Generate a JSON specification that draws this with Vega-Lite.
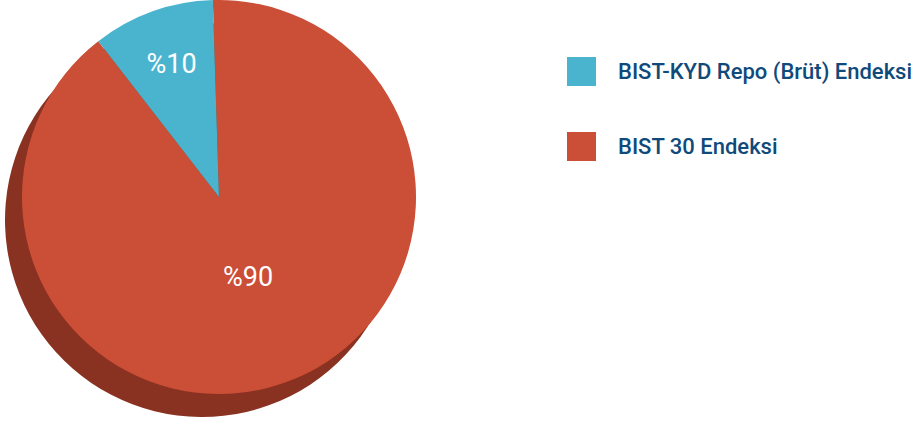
{
  "$schema": "https://vega.github.io/schema/vega-lite/v6.json",
  "width": 438,
  "height": 394,
  "padding": 0,
  "background": "white",
  "config": {"view": {"stroke": null}},
  "data": {
    "values": [
      {"endeks": "BIST 30 Endeksi", "pay": 90, "label": "%90"},
      {"endeks": "BIST-KYD Repo (Brüt) Endeksi", "pay": 10, "label": "%10"}
    ]
  },
  "encoding": {
    "theta": {"field": "pay", "type": "quantitative", "stack": true, "scale": {"range": [-0.0314, 6.2518]}},
    "order": {"field": "endeks"}
  },
  "layer": [
    {
      "mark": {"type": "arc", "radius": 197, "xOffset": -17, "yOffset": 23, "color": "#8a3221"}
    },
    {
      "mark": {"type": "arc", "radius": 197},
      "encoding": {
        "color": {
          "field": "endeks",
          "type": "nominal",
          "scale": {
            "domain": ["BIST-KYD Repo (Brüt) Endeksi", "BIST 30 Endeksi"],
            "range": ["#4ab4cf", "#cb4e36"]
          },
          "legend": {
            "title": null,
            "orient": "none",
            "legendX": 567,
            "legendY": 57,
            "symbolType": "square",
            "symbolSize": 841,
            "symbolStrokeWidth": 0,
            "symbolOpacity": 1,
            "labelFont": "Roboto",
            "labelFontSize": 22,
            "labelFontWeight": 500,
            "labelColor": "#0f4a7b",
            "labelOffset": 22,
            "rowPadding": 46,
            "labelLimit": 400
          }
        }
      }
    },
    {
      "mark": {"type": "text", "color": "white", "font": "Roboto", "fontSize": 27},
      "encoding": {
        "text": {"field": "label"},
        "radius": {
          "field": "pay",
          "type": "quantitative",
          "scale": {"type": "linear", "domain": [10, 90], "range": [140, 86], "zero": false},
          "legend": null
        }
      }
    }
  ]
}
